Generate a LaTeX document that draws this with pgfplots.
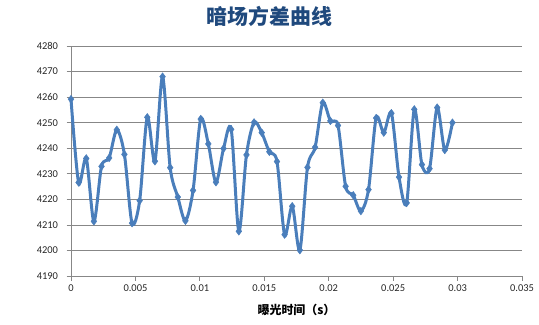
\documentclass[border=0pt]{standalone}
\usepackage{fontspec}
\setmainfont{Carlito}
\newfontfamily\cjk{Noto Sans CJK SC}
\usepackage{pgfplots}
\pgfplotsset{compat=1.18}
\definecolor{series}{HTML}{4A7EBB}
\definecolor{gridc}{HTML}{878787}
\definecolor{titlec}{HTML}{1F497D}
\pgfplotstableread{
x y
0        4259.2
0.000592 4226.6
0.001184 4236.0
0.001776 4211.4
0.002368 4232.9
0.002960 4236.2
0.003552 4247.2
0.004144 4237.6
0.004736 4210.7
0.005328 4219.5
0.005920 4252.1
0.006512 4234.9
0.007104 4268.0
0.007696 4232.4
0.008288 4220.9
0.008880 4211.6
0.009472 4223.5
0.010064 4251.4
0.010656 4241.7
0.011248 4226.7
0.011840 4239.9
0.012432 4247.4
0.013024 4207.5
0.013616 4237.4
0.014208 4250.1
0.014800 4246.1
0.015392 4238.6
0.015984 4234.8
0.016576 4206.2
0.017168 4217.3
0.017760 4200.1
0.018352 4232.5
0.018944 4240.4
0.019536 4257.8
0.020128 4250.7
0.020720 4248.9
0.021312 4225.1
0.021904 4221.6
0.022496 4215.4
0.023088 4223.8
0.023680 4251.8
0.024272 4246.1
0.024864 4253.7
0.025456 4228.7
0.026048 4218.6
0.026640 4255.2
0.027232 4233.6
0.027824 4232.0
0.028416 4255.9
0.029008 4239.3
0.029600 4250.0
}\datatable
\begin{document}
\begin{tikzpicture}[x=1bp,y=1bp]
\useasboundingbox (0,0) rectangle (539,324);
\begin{axis}[
  at={(71bp,48bp)}, anchor=south west,
  width=451bp, height=230bp, scale only axis,
  xmin=0, xmax=0.035, ymin=4190, ymax=4280,
  scaled x ticks=false, scaled y ticks=false,
  xtick={0,0.005,0.01,0.015,0.02,0.025,0.03,0.035},
  xticklabels={0,0.005,0.01,0.015,0.02,0.025,0.03,0.035},
  ytick={4190,4200,4210,4220,4230,4240,4250,4260,4270,4280},
  yticklabels={4190,4200,4210,4220,4230,4240,4250,4260,4270,4280},
  axis x line*=bottom, axis y line*=left,
  axis line style={gridc, line width=0.75bp, -},
  ymajorgrids, grid style={gridc, line width=0.75bp},
  tick align=outside, major tick length=4.5bp,
  tick style={gridc, line width=0.75bp},
  tick label style={font=\fontsize{10.5}{12}\selectfont, text=black!85},
  yticklabel style={xshift=-5bp},
  xticklabel style={yshift=-1bp},
  xlabel={\cjk\bfseries 曝光时间（s）},
  xlabel style={font=\fontsize{12}{14}\selectfont, at={(axis description cs:0.5,0)}, anchor=center, yshift=-34bp},
  title={\cjk\bfseries 暗场方差曲线},
  title style={font=\fontsize{21}{23}\selectfont, text=titlec, at={(axis description cs:0.5,1)}, anchor=center, xshift=-27bp, yshift=24bp},
  clip=false,
]
\addplot[series, line width=3bp, smooth, mark=diamond*, mark size=3.8bp, mark options={fill=series, draw=series, line width=0.5bp}] table[x=x,y=y] {\datatable};
\end{axis}
\end{tikzpicture}
\end{document}
